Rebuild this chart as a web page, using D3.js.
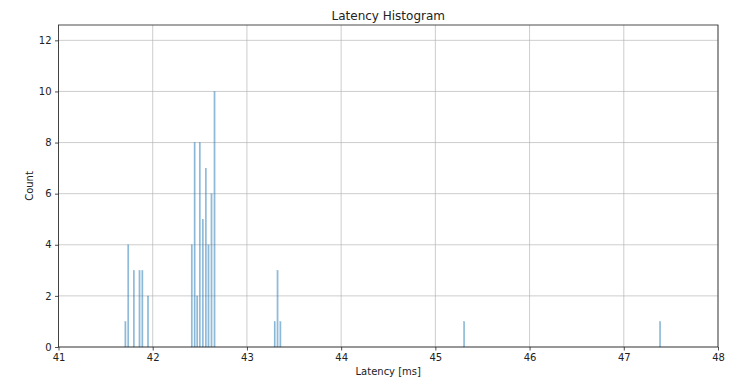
<!DOCTYPE html>
<html>
<head>
<meta charset="utf-8">
<script src="https://cdn.jsdelivr.net/npm/d3@7"></script>
<style>
  body { margin: 0; background: #fff; }
  svg text { font-family: "DejaVu Sans", sans-serif; fill: #222; }
</style>
</head>
<body>
<script>
// histogram bins: left edge latency [ms] and count
const binEdges = [41.71, 41.74, 41.80, 41.86, 41.89, 41.95,
  42.415, 42.445, 42.472, 42.50, 42.532, 42.564, 42.592, 42.624, 42.656,
  43.295, 43.325, 43.355,
  45.305, 47.385];
const counts = [1, 4, 3, 3, 3, 2,
  4, 8, 2, 8, 5, 7, 4, 6, 10,
  1, 3, 1,
  1, 1];
const binWidth = 0.0302;
const xTicks = [41, 42, 43, 44, 45, 46, 47, 48];
const yTicks = [0, 2, 4, 6, 8, 10, 12];

const w = 734;
const h = 378;
const margin = { top: 25, right: 16, bottom: 31, left: 58.5 };

const svg = d3.select("body").append("svg").attr("width", w).attr("height", h);

const x = d3.scaleLinear().domain([41, 48]).range([margin.left, w - margin.right]);
const y = d3.scaleLinear().domain([0, 12.6]).range([h - margin.bottom, margin.top]);

// grid
svg.append("g")
  .selectAll("line")
  .data(xTicks)
  .enter()
  .append("line")
  .attr("x1", d => x(d)).attr("x2", d => x(d))
  .attr("y1", y(0)).attr("y2", y(12.6))
  .attr("stroke", "#b0b0b0").attr("stroke-width", 0.8).attr("stroke-opacity", 0.8);
svg.append("g")
  .selectAll("line")
  .data(yTicks)
  .enter()
  .append("line")
  .attr("x1", x(41)).attr("x2", x(48))
  .attr("y1", d => y(d)).attr("y2", d => y(d))
  .attr("stroke", "#b0b0b0").attr("stroke-width", 0.8).attr("stroke-opacity", 0.8);

// bars
const bw = (x(41 + binWidth) - x(41)) * 0.5;
svg.append("g")
  .selectAll("rect")
  .data(binEdges)
  .enter()
  .append("rect")
  .attr("x", d => x(d) - bw / 2)
  .attr("width", bw)
  .attr("y", (d, i) => y(counts[i]))
  .attr("height", (d, i) => y(0) - y(counts[i]))
  .attr("fill", "#1f77b4")
  .attr("fill-opacity", 0.5)
  .attr("stroke", "#1f77b4")
  .attr("stroke-opacity", 0.3)
  .attr("stroke-width", 0.3);

// axes
const xAxis = svg.append("g")
  .attr("transform", `translate(0,${y(0)})`)
  .call(d3.axisBottom(x).tickValues(xTicks).tickSize(3.5).tickPadding(3.5).tickFormat(d3.format("d")));
const yAxis = svg.append("g")
  .attr("transform", `translate(${x(41)},0)`)
  .call(d3.axisLeft(y).tickValues(yTicks).tickSize(3.5).tickPadding(3.5).tickFormat(d3.format("d")));
[xAxis, yAxis].forEach(a => {
  a.select(".domain").remove();
  a.selectAll("text").style("font-size", "10px").attr("fill", "#222");
  a.selectAll("line").attr("stroke", "#222").attr("stroke-width", 0.8);
});

// frame
svg.append("rect")
  .attr("x", x(41)).attr("y", y(12.6))
  .attr("width", x(48) - x(41)).attr("height", y(0) - y(12.6))
  .attr("fill", "none").attr("stroke", "#222").attr("stroke-width", 0.8);

// labels
svg.append("text")
  .attr("x", (x(41) + x(48)) / 2).attr("y", 20)
  .attr("text-anchor", "middle").style("font-size", "12px")
  .text("Latency Histogram");
svg.append("text")
  .attr("x", (x(41) + x(48)) / 2).attr("y", 375)
  .attr("text-anchor", "middle").style("font-size", "10px")
  .text("Latency [ms]");
svg.append("text")
  .attr("transform", `translate(33,${(y(0) + y(12.6)) / 2}) rotate(-90)`)
  .attr("text-anchor", "middle").style("font-size", "10px")
  .text("Count");
</script>
</body>
</html>
